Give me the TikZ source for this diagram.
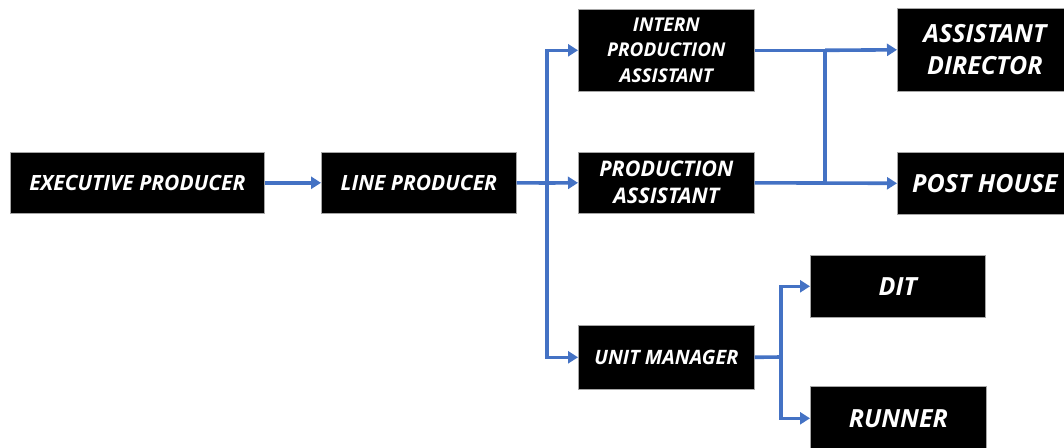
\documentclass[tikz,border=0pt]{standalone}
\usepackage{fontspec}
\setmainfont{Open Sans}
\usetikzlibrary{arrows.meta,positioning}
\definecolor{conn}{HTML}{4472C4}
\tikzset{
  box/.style={fill=black, draw=gray!70, line width=0.6pt, text=white, font=\bfseries\itshape, align=center, inner sep=0pt, anchor=north west},
  link/.style={draw=conn, line width=3.6pt, -{Triangle[length=10pt,width=12pt]}},
  plain/.style={draw=conn, line width=3.6pt}
}
\begin{document}
\begin{tikzpicture}[x=1pt,y=-1pt]
\useasboundingbox (0,0) rectangle (1064,447);
\node[box, minimum width=254pt, minimum height=61pt, font=\fontsize{21}{25}\selectfont\bfseries\itshape] (ep) at (10,152) {EXECUTIVE PRODUCER};
\node[box, minimum width=195pt, minimum height=61pt, font=\fontsize{21}{25}\selectfont\bfseries\itshape] (lp) at (321,152) {LINE PRODUCER};
\node[box, minimum width=176pt, minimum height=82pt, font=\fontsize{19}{25.5}\selectfont\bfseries\itshape] (ipa) at (578,9) {INTERN\\PRODUCTION\\ASSISTANT};
\node[box, minimum width=176pt, minimum height=61pt, font=\fontsize{21.5}{27}\selectfont\bfseries\itshape] (pa) at (578,152) {PRODUCTION\\ASSISTANT};
\node[box, minimum width=176pt, minimum height=64pt, font=\fontsize{19.8}{24}\selectfont\bfseries\itshape] (um) at (578,325) {UNIT MANAGER};
\node[box, minimum width=175pt, minimum height=83pt, font=\fontsize{25}{32}\selectfont\bfseries\itshape] (ad) at (897,8) {ASSISTANT\\DIRECTOR};
\node[box, minimum width=175pt, minimum height=62pt, font=\fontsize{25}{30}\selectfont\bfseries\itshape] (ph) at (897,152) {POST HOUSE};
\node[box, minimum width=175pt, minimum height=62pt, font=\fontsize{25}{30}\selectfont\bfseries\itshape] (dit) at (810,255) {DIT};
\node[box, minimum width=176pt, minimum height=64pt, font=\fontsize{25}{30}\selectfont\bfseries\itshape] (run) at (810,386) {RUNNER};
% junctions
\coordinate (j1) at (547,183);
\coordinate (j2) at (825,182);
\coordinate (j3) at (781,357);
\draw[link] (ep.east) -- (lp.east -| lp.west);
\draw[plain] (lp.east) -- (j1);
\draw[link] (j1) -- (pa.west);
\draw[link] (j1) |- (ipa.west);
\draw[link] (j1) |- (um.west);
\draw[link] (pa.east) -- (ph.west);
\draw[plain] (ipa.east) -- (ipa.east -| j2);
\draw[link] (ipa.east -| j2) -- (ad.west);
\draw[plain] (ipa.east -| j2) -- (j2);
\draw[plain] (um.east) -- (j3);
\draw[link] (j3) |- (dit.west);
\draw[link] (j3) |- (run.west);
\end{tikzpicture}
\end{document}
